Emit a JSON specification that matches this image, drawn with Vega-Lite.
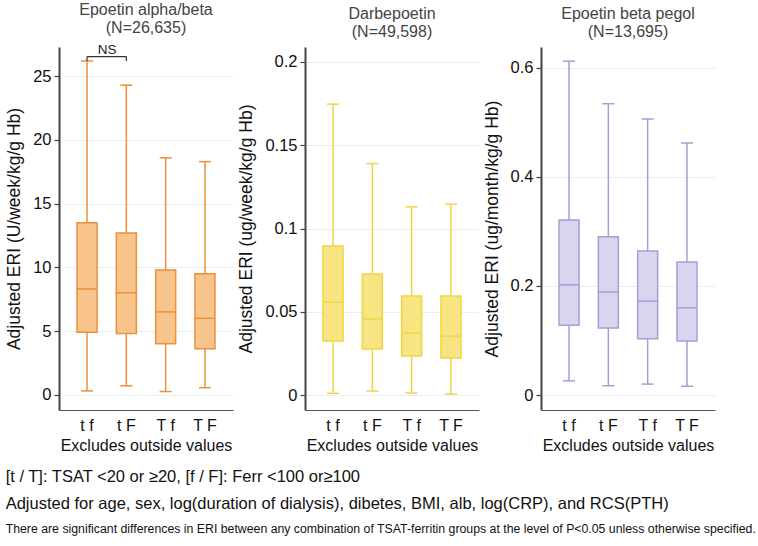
{
  "$schema": "https://vega.github.io/schema/vega-lite/v6.json",
  "padding": {"left": 5, "right": 2, "top": 2, "bottom": 2},
  "background": "white",
  "config": {
    "font": "Liberation Sans",
    "view": {"stroke": null},
    "concat": {"spacing": 4},
    "title": {"fontSize": 16, "fontWeight": "normal", "color": "#444", "lineHeight": 18, "offset": 7},
    "axisX": {"domainColor": "#555", "domainWidth": 1.2, "ticks": false, "labelAngle": 0, "labelFontSize": 16, "labelPadding": 7, "labelColor": "#111", "titleFontSize": 16, "titleFontWeight": "normal", "titleColor": "#111", "titlePadding": 4, "grid": false},
    "axisY": {"domainColor": "#444", "domainWidth": 2, "tickColor": "#444", "tickSize": 5, "tickWidth": 1.2, "labelFontSize": 16.5, "labelColor": "#111", "labelPadding": 3, "titleFontSize": 17.5, "titleFontWeight": "normal", "titleColor": "#111", "titlePadding": 9, "gridColor": "#e6eff2", "gridWidth": 1}
  },
  "datasets": {
    "epo": [
      {"group": "t f", "lo": 0.3, "q1": 4.9, "med": 8.3, "q3": 13.5, "hi": 26.2},
      {"group": "t F", "lo": 0.7, "q1": 4.8, "med": 8.0, "q3": 12.7, "hi": 24.3},
      {"group": "T f", "lo": 0.25, "q1": 4.0, "med": 6.5, "q3": 9.8, "hi": 18.6},
      {"group": "T F", "lo": 0.55, "q1": 3.6, "med": 6.0, "q3": 9.5, "hi": 18.3}
    ],
    "darb": [
      {"group": "t f", "lo": 0.001, "q1": 0.0324, "med": 0.0558, "q3": 0.0895, "hi": 0.1747},
      {"group": "t F", "lo": 0.0024, "q1": 0.0276, "med": 0.0456, "q3": 0.0726, "hi": 0.139},
      {"group": "T f", "lo": 0.0012, "q1": 0.0234, "med": 0.0372, "q3": 0.0594, "hi": 0.113},
      {"group": "T F", "lo": 0.0006, "q1": 0.0222, "med": 0.0354, "q3": 0.0594, "hi": 0.1146}
    ],
    "peg": [
      {"group": "t f", "lo": 0.026, "q1": 0.128, "med": 0.202, "q3": 0.321, "hi": 0.612},
      {"group": "t F", "lo": 0.017, "q1": 0.123, "med": 0.189, "q3": 0.29, "hi": 0.534},
      {"group": "T f", "lo": 0.02, "q1": 0.103, "med": 0.172, "q3": 0.264, "hi": 0.506},
      {"group": "T F", "lo": 0.016, "q1": 0.099, "med": 0.16, "q3": 0.244, "hi": 0.462}
    ],
    "nsBar": [{"a": "t f", "b": "t F", "y": 26.55}],
    "nsLegs": [{"g": "t f", "y1": 26.2, "y2": 26.55}, {"g": "t F", "y1": 26.2, "y2": 26.55}],
    "nsText": [{"g": "t f", "y": 27.05, "label": "NS"}]
  },
  "title": {
    "text": ["[t / T]: TSAT <20 or ≥20, [f / F]: Ferr <100 or≥100", "Adjusted for age, sex, log(duration of dialysis), dibetes, BMI, alb, log(CRP), and RCS(PTH)"],
    "orient": "bottom",
    "anchor": "start",
    "frame": "bounds",
    "fontSize": 16.5,
    "fontWeight": "normal",
    "color": "#111",
    "lineHeight": 27,
    "offset": 16,
    "subtitle": "There are significant differences in ERI between any combination of TSAT-ferritin groups at the level of P<0.05 unless otherwise specified.",
    "subtitleFontSize": 12.3,
    "subtitleColor": "#111",
    "subtitlePadding": 10
  },
  "hconcat": [
    {
      "width": 174,
      "height": 363,
      "title": {"text": ["Epoetin alpha/beta", "(N=26,635)"]},
      "data": {"name": "epo"},
      "encoding": {
        "x": {"field": "group", "type": "nominal", "sort": null, "scale": {"domain": ["t f", "t F", "T f", "T F"], "paddingInner": 0.5, "paddingOuter": 0.463}, "axis": {"title": "Excludes outside values"}}
      },
      "layer": [
        {"mark": {"type": "rule", "color": "#EE8F3A", "strokeWidth": 1.5},
         "encoding": {"y": {"field": "lo", "type": "quantitative", "scale": {"domain": [-1.2, 27.3], "nice": false, "zero": false}, "axis": {"values": [0, 5, 10, 15, 20, 25], "title": "Adjusted ERI (U/week/kg/g Hb)", "grid": true}}, "y2": {"field": "hi"}}},
        {"mark": {"type": "tick", "color": "#EE8F3A", "thickness": 1.5, "size": 12, "opacity": 1}, "encoding": {"y": {"field": "lo", "type": "quantitative"}}},
        {"mark": {"type": "tick", "color": "#EE8F3A", "thickness": 1.5, "size": 12, "opacity": 1}, "encoding": {"y": {"field": "hi", "type": "quantitative"}}},
        {"mark": {"type": "bar", "fill": "#F7C48C", "stroke": "#EE8F3A", "strokeWidth": 1.5, "size": 20}, "encoding": {"y": {"field": "q1", "type": "quantitative"}, "y2": {"field": "q3"}}},
        {"mark": {"type": "tick", "color": "#EE8F3A", "thickness": 1.5, "size": 20, "opacity": 1}, "encoding": {"y": {"field": "med", "type": "quantitative"}}},
        {"data": {"name": "nsBar"}, "mark": {"type": "rule", "color": "#333", "strokeWidth": 1.2},
         "encoding": {"x": {"field": "a", "type": "nominal"}, "x2": {"field": "b"}, "y": {"field": "y", "type": "quantitative"}}},
        {"data": {"name": "nsLegs"}, "mark": {"type": "rule", "color": "#333", "strokeWidth": 1.2},
         "encoding": {"x": {"field": "g", "type": "nominal"}, "y": {"field": "y1", "type": "quantitative"}, "y2": {"field": "y2"}}},
        {"data": {"name": "nsText"}, "mark": {"type": "text", "color": "#222", "fontSize": 13.5, "dx": 20},
         "encoding": {"x": {"field": "g", "type": "nominal"}, "y": {"field": "y", "type": "quantitative"}, "text": {"field": "label"}}}
      ]
    },
    {
      "width": 174,
      "height": 363,
      "title": {"text": ["Darbepoetin", "(N=49,598)"]},
      "data": {"name": "darb"},
      "encoding": {
        "x": {"field": "group", "type": "nominal", "sort": null, "scale": {"domain": ["t f", "t F", "T f", "T F"], "paddingInner": 0.5, "paddingOuter": 0.463}, "axis": {"title": "Excludes outside values"}}
      },
      "layer": [
        {"mark": {"type": "rule", "color": "#F2D443", "strokeWidth": 1.5},
         "encoding": {"y": {"field": "lo", "type": "quantitative", "scale": {"domain": [-0.009, 0.209], "nice": false, "zero": false}, "axis": {"values": [0, 0.05, 0.1, 0.15, 0.2], "format": ".2~f", "title": "Adjusted ERI (ug/week/kg/g Hb)", "grid": true}}, "y2": {"field": "hi"}}},
        {"mark": {"type": "tick", "color": "#F2D443", "thickness": 1.5, "size": 12, "opacity": 1}, "encoding": {"y": {"field": "lo", "type": "quantitative"}}},
        {"mark": {"type": "tick", "color": "#F2D443", "thickness": 1.5, "size": 12, "opacity": 1}, "encoding": {"y": {"field": "hi", "type": "quantitative"}}},
        {"mark": {"type": "bar", "fill": "#F7E584", "stroke": "#F2D443", "strokeWidth": 1.5, "size": 20}, "encoding": {"y": {"field": "q1", "type": "quantitative"}, "y2": {"field": "q3"}}},
        {"mark": {"type": "tick", "color": "#F2D443", "thickness": 1.5, "size": 20, "opacity": 1}, "encoding": {"y": {"field": "med", "type": "quantitative"}}}
      ]
    },
    {
      "width": 174,
      "height": 363,
      "title": {"text": ["Epoetin beta pegol", "(N=13,695)"]},
      "data": {"name": "peg"},
      "encoding": {
        "x": {"field": "group", "type": "nominal", "sort": null, "scale": {"domain": ["t f", "t F", "T f", "T F"], "paddingInner": 0.5, "paddingOuter": 0.463}, "axis": {"title": "Excludes outside values"}}
      },
      "layer": [
        {"mark": {"type": "rule", "color": "#A69ED4", "strokeWidth": 1.5},
         "encoding": {"y": {"field": "lo", "type": "quantitative", "scale": {"domain": [-0.0275, 0.638], "nice": false, "zero": false}, "axis": {"values": [0, 0.2, 0.4, 0.6], "format": ".1~f", "title": "Adjusted ERI (ug/month/kg/g Hb)", "grid": true}}, "y2": {"field": "hi"}}},
        {"mark": {"type": "tick", "color": "#A69ED4", "thickness": 1.5, "size": 12, "opacity": 1}, "encoding": {"y": {"field": "lo", "type": "quantitative"}}},
        {"mark": {"type": "tick", "color": "#A69ED4", "thickness": 1.5, "size": 12, "opacity": 1}, "encoding": {"y": {"field": "hi", "type": "quantitative"}}},
        {"mark": {"type": "bar", "fill": "#D9D5EF", "stroke": "#A69ED4", "strokeWidth": 1.5, "size": 20}, "encoding": {"y": {"field": "q1", "type": "quantitative"}, "y2": {"field": "q3"}}},
        {"mark": {"type": "tick", "color": "#A69ED4", "thickness": 1.5, "size": 20, "opacity": 1}, "encoding": {"y": {"field": "med", "type": "quantitative"}}}
      ]
    }
  ]
}
